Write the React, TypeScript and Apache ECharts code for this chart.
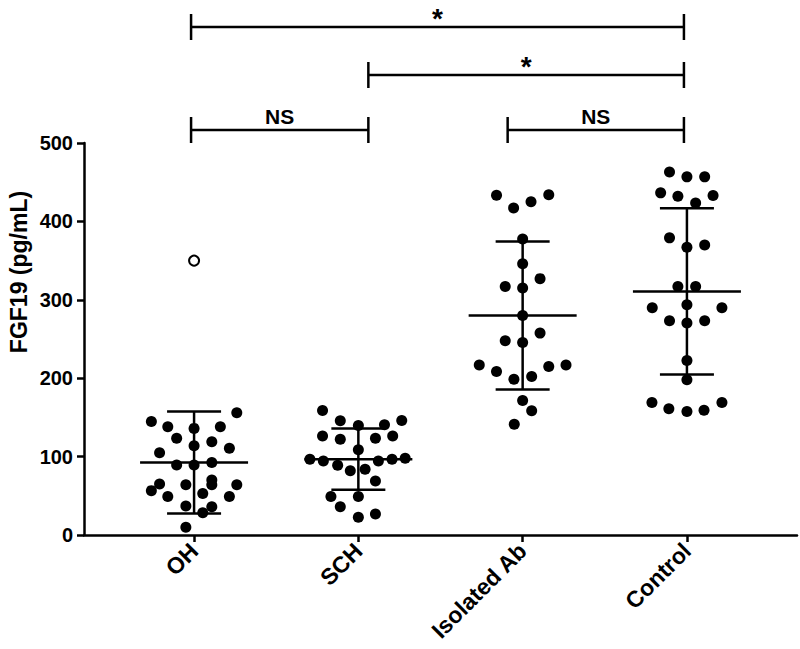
import React, { useEffect, useRef } from "react";
import * as echarts from "echarts";

const categories = ["OH", "SCH", "Isolated Ab", "Control"];

const ohValues = [156, 144.7, 138, 136, 138, 123.5, 119, 113.7, 110.7, 105, 89.4, 89.4, 92.4, 70, 64, 64, 65, 56.6, 64, 49, 53, 49, 37, 36, 28.5, 9.8];
const ohJitter = [0.26, -0.26, -0.16, 0, 0.16, -0.106, 0.108, 0, 0.215, -0.21, -0.106, 0, 0.108, 0.108, 0.108, -0.05, -0.21, -0.26, 0.26, -0.16, 0.053, 0.215, -0.05, 0.108, 0.053, -0.05];
const ohOutlier = [350];
const ohOutlierJitter = [0];

const schValues = [158.8, 145.6, 139.6, 140.5, 146, 126.4, 122, 123.5, 126.4, 108.6, 96.7, 94.5, 89, 94.5, 96.7, 98, 82, 84, 69, 49, 49, 36, 22.6, 26.8];
const schJitter = [-0.218, -0.11, 0, 0.159, 0.264, -0.218, -0.11, 0.104, 0.209, 0, -0.295, -0.213, -0.126, 0.122, 0.205, 0.285, -0.049, 0.041, 0.104, -0.167, 0, -0.11, 0, 0.104];

const isoValues = [433.4, 417, 425, 434, 377.6, 346, 317, 315, 327, 280, 247.8, 245.6, 257.5, 216.7, 208.6, 198.8, 202.2, 215, 216.7, 171.5, 158.4, 141.4];
const isoJitter = [-0.159, -0.055, 0.051, 0.159, 0, 0, -0.106, 0, 0.106, 0, -0.106, 0, 0.106, -0.264, -0.159, -0.053, 0.055, 0.159, 0.264, 0, 0.055, -0.051];

const controlValues = [463, 456.8, 456.8, 436.4, 432, 433, 423.6, 379, 367, 370, 317, 317, 290, 293.7, 290, 273.3, 270.4, 273.3, 222.6, 198, 169, 161, 157.5, 159, 169];
const controlJitter = [-0.106, 0, 0.108, -0.16, -0.055, 0.159, 0.053, -0.106, 0, 0.108, -0.055, 0.053, -0.211, 0, 0.213, -0.106, 0, 0.108, 0, 0, -0.213, -0.11, 0, 0.104, 0.213];

const means = [92.4, 96.7, 280, 310.7];
const sds = [65, 39, 94.3, 106];

const yTicks = [0, 100, 200, 300, 400, 500];
const yTitle = "FGF19 (pg/mL)";

// comparisons: [from group, to group, label]
const comparisons: [number, number, string][] = [
  [0, 3, "*"],
  [1, 3, "*"],
  [0, 1, "NS"],
  [2, 3, "NS"],
];

const FONT = "'Liberation Sans', Arial, Helvetica, sans-serif";

function points(values: number[], jitter: number[], idx: number) {
  return values.map((v, i) => [idx + jitter[i], v]);
}

export default function App() {
  const ref = useRef<HTMLDivElement>(null);
  useEffect(() => {
    if (!ref.current) return;
    const chart = echarts.init(ref.current, undefined, { renderer: "svg" });
    const filled = [
      ...points(ohValues, ohJitter, 0),
      ...points(schValues, schJitter, 1),
      ...points(isoValues, isoJitter, 2),
      ...points(controlValues, controlJitter, 3),
    ];
    const hollow = points(ohOutlier, ohOutlierJitter, 0);
    const errData = means.map((m, i) => [i, m, sds[i]]);
    const LW = 2.5;
    chart.setOption({
      animation: false,
      backgroundColor: "#fff",
      grid: { left: 84, right: 3, top: 143, bottom: 114, containLabel: false },
      xAxis: {
        type: "value",
        min: -0.67,
        max: 3.67,
        splitLine: { show: false },
        axisLine: { show: true, onZero: false, lineStyle: { color: "#000", width: LW } },
        axisTick: { show: true, customValues: [0, 1, 2, 3], length: 7, lineStyle: { color: "#000", width: LW } },
        axisLabel: {
          customValues: [0, 1, 2, 3],
          rotate: 45,
          margin: 12,
          color: "#000",
          fontSize: 23,
          fontWeight: "bold",
          fontFamily: FONT,
          formatter: (v: number) => categories[Math.round(v)] ?? "",
        },
      },
      yAxis: {
        type: "value",
        min: yTicks[0],
        max: yTicks[yTicks.length - 1],
        interval: 100,
        splitLine: { show: false },
        axisLine: { show: true, onZero: false, lineStyle: { color: "#000", width: LW } },
        axisTick: { show: true, length: 7, lineStyle: { color: "#000", width: LW } },
        axisLabel: { color: "#000", fontSize: 20, fontWeight: "bold", fontFamily: FONT, margin: 11 },
      },
      series: [
        {
          type: "scatter",
          data: filled,
          symbol: "circle",
          symbolSize: 11,
          itemStyle: { color: "#000", opacity: 1 },
          z: 3,
        },
        {
          type: "scatter",
          data: hollow,
          symbol: "circle",
          symbolSize: 10,
          itemStyle: { color: "#fff", borderColor: "#000", borderWidth: 2, opacity: 1 },
          z: 3,
        },
        {
          type: "custom",
          data: errData,
          z: 4,
          renderItem: (params: any, api: any) => {
            const x = api.value(0);
            const m = api.value(1);
            const s = api.value(2);
            const c = api.coord([x, m]);
            const t = api.coord([x, m + s]);
            const b = api.coord([x, m - s]);
            const st = { stroke: "#000", lineWidth: LW };
            return {
              type: "group",
              children: [
                { type: "line", shape: { x1: c[0] - 54, y1: c[1], x2: c[0] + 54, y2: c[1] }, style: st },
                { type: "line", shape: { x1: c[0], y1: t[1], x2: c[0], y2: b[1] }, style: st },
                { type: "line", shape: { x1: c[0] - 27, y1: t[1], x2: c[0] + 27, y2: t[1] }, style: st },
                { type: "line", shape: { x1: c[0] - 27, y1: b[1], x2: c[0] + 27, y2: b[1] }, style: st },
              ],
            };
          },
        },
      ],
    });

    // significance brackets
    const endOffset = [-3, 10, -15, -3];
    const levelY = [27, 75, 130, 130];
    const gx = (i: number) => (chart.convertToPixel({ gridIndex: 0 }, [i, 0]) as number[])[0] + endOffset[i];
    const graphics: any[] = [];
    comparisons.forEach(([a, b, label], k) => {
      const x1 = gx(a);
      const x2 = gx(b);
      const y = levelY[k];
      const st = { stroke: "#000", lineWidth: LW };
      graphics.push({ type: "line", shape: { x1, y1: y, x2, y2: y }, style: st });
      graphics.push({ type: "line", shape: { x1, y1: y - 13, x2: x1, y2: y + 13 }, style: st });
      graphics.push({ type: "line", shape: { x1: x2, y1: y - 13, x2, y2: y + 13 }, style: st });
      const isStar = label === "*";
      graphics.push({
        type: "text",
        x: (x1 + x2) / 2,
        y: isStar ? y + 5 : y - 3,
        style: {
          text: label,
          fill: "#000",
          font: `bold ${isStar ? 28 : 21}px ${FONT}`,
          textAlign: "center",
          textVerticalAlign: "bottom",
        },
      });
    });
    // y-axis title
    graphics.push({
      type: "text",
      x: 19,
      y: 272,
      rotation: Math.PI / 2,
      style: {
        text: yTitle,
        fill: "#000",
        font: `bold 23px ${FONT}`,
        textAlign: "center",
        textVerticalAlign: "middle",
      },
    });
    chart.setOption({ graphic: graphics });

    return () => chart.dispose();
  }, []);
  return <div ref={ref} style={{ position: "fixed", left: 0, top: 0, width: 800, height: 649 }} />;
}
